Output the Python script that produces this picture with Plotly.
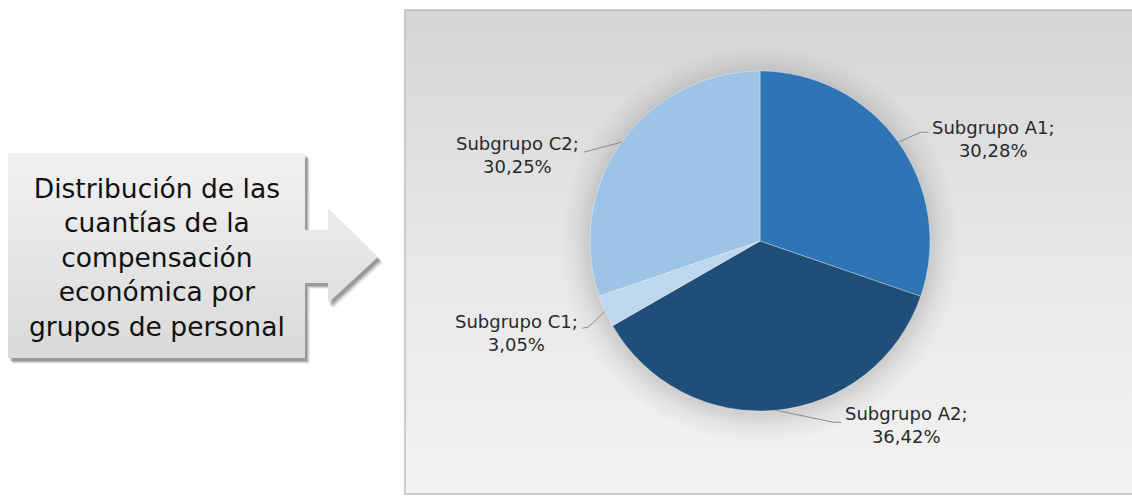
import numpy as np
import plotly.graph_objects as go

# data
labels = ['Subgrupo A1', 'Subgrupo A2', 'Subgrupo C1', 'Subgrupo C2']
shares = [30.28, 36.42, 3.05, 30.25]
pct_text = ['30,28%', '36,42%', '3,05%', '30,25%']
colors = ['#2E75B6', '#1F4E79', '#BDD7EE', '#9DC3E6']
callout_lines = ['Distribución de las', 'cuantías de la', 'compensación',
                 'económica por', 'grupos de personal']

W, H = 1132, 496
cx, cy, r = 760, 241, 170   # pie centre / radius in px

# leader line style per slice: offsets (px) from the slice edge point
label_style = [
    dict(elbow=(22, -10), end=(30, -10), text=(32, -3), anchor='left'),
    dict(elbow=(57, 12), end=(65, 12), text=(67, 15), anchor='left'),
    dict(elbow=(-17, 16), end=(-23, 17), text=(-25, 22), anchor='right'),
    dict(elbow=(-22, 6), end=(-38, 10), text=(-41, 13), anchor='right'),
]

fig = go.Figure()

# chart panel with vertical gradient (runs off the right edge)
px0, py0, px1, py1 = 405, 10, W + 6, 494
fig.add_trace(go.Scatter(
    x=[px0, px1, px1, px0, px0], y=[py0, py0, py1, py1, py0],
    mode='none', fill='toself',
    fillgradient=dict(type='vertical', colorscale=[[0, '#d5d5d5'], [0.5, '#e7e7e7'], [1, '#f3f3f3']],
                      start=py0, stop=py1),
    hoverinfo='skip'))
fig.add_trace(go.Scatter(
    x=[px1, px0, px0, px1], y=[py0, py0, py1, py1], mode='lines',
    line=dict(color='#bdbdbd', width=1.5), hoverinfo='skip'))

# soft shadow round the pie
t = np.linspace(0, 2 * np.pi, 200)
rs = r + 30
fig.add_trace(go.Scatter(
    x=cx + rs * np.cos(t), y=cy + 3 + rs * np.sin(t), mode='lines', fill='toself',
    fillgradient=dict(type='radial', colorscale=[[0, 'rgba(0,0,0,0.16)'], [0.85, 'rgba(0,0,0,0.13)'],
                                                 [0.92, 'rgba(0,0,0,0.05)'], [1, 'rgba(0,0,0,0)']]),
    line=dict(width=0), hoverinfo='skip'))

# callout box with arrow
bx = [8, 305, 305, 328, 328, 378, 328, 328, 305, 305, 8, 8]
by = [153, 153, 230, 230, 208, 257, 303, 283, 283, 358, 358, 153]
for dx, dy, a in [(5, 6, 0.06), (4, 5, 0.10), (3, 4, 0.14), (2, 3, 0.16)]:
    fig.add_trace(go.Scatter(
        x=[v + dx for v in bx], y=[v + dy for v in by], mode='lines', fill='toself',
        fillcolor='rgba(0,0,0,%s)' % a, line=dict(width=0), hoverinfo='skip'))
fig.add_trace(go.Scatter(
    x=bx, y=by, mode='lines', fill='toself',
    fillgradient=dict(type='vertical', colorscale=[[0, '#f1f1f1'], [1, '#d9d9d9']], start=153, stop=358),
    line=dict(width=0), hoverinfo='skip'))

# leader lines + labels
total = sum(shares)
cum = np.cumsum([0] + shares[:-1])
annotations = []
for i, v in enumerate(shares):
    ang = 2 * np.pi * (cum[i] + v / 2) / total
    ex, ey = cx + r * np.sin(ang), cy - r * np.cos(ang)
    st = label_style[i]
    fig.add_trace(go.Scatter(
        x=[ex, ex + st['elbow'][0], ex + st['end'][0]],
        y=[ey, ey + st['elbow'][1], ey + st['end'][1]],
        mode='lines', line=dict(color='#8a8a8a', width=1), hoverinfo='skip'))
    annotations.append(dict(
        x=ex + st['text'][0], y=ey + st['text'][1], xref='x', yref='y',
        text=labels[i] + ';<br>' + pct_text[i], showarrow=False,
        xanchor=st['anchor'], yanchor='middle', align='center',
        font=dict(family='DejaVu Sans', size=18, color='#2a2a2a')))

annotations.append(dict(
    x=157, y=257, xref='x', yref='y', text='<br>'.join(callout_lines), showarrow=False,
    xanchor='center', yanchor='middle', align='center',
    font=dict(family='DejaVu Sans', size=26.5, color='#111111')))

fig.add_trace(go.Pie(
    labels=labels, values=shares, sort=False, direction='clockwise', rotation=0,
    marker=dict(colors=colors, line=dict(color='rgba(255,255,255,0.5)', width=0.7)),
    textinfo='none', hoverinfo='label+percent',
    domain=dict(x=[(cx - r) / W, (cx + r) / W], y=[(H - cy - r) / H, (H - cy + r) / H])))

fig.update_layout(
    width=W, height=H, margin=dict(l=0, r=0, t=0, b=0),
    paper_bgcolor='white', plot_bgcolor='white', showlegend=False,
    xaxis=dict(range=[0, W], visible=False, fixedrange=True, domain=[0, 1]),
    yaxis=dict(range=[H, 0], visible=False, fixedrange=True, domain=[0, 1]),
    annotations=annotations)

fig.write_html('out.html', config={'displayModeBar': False},
               post_script="document.body.style.margin='0';")
